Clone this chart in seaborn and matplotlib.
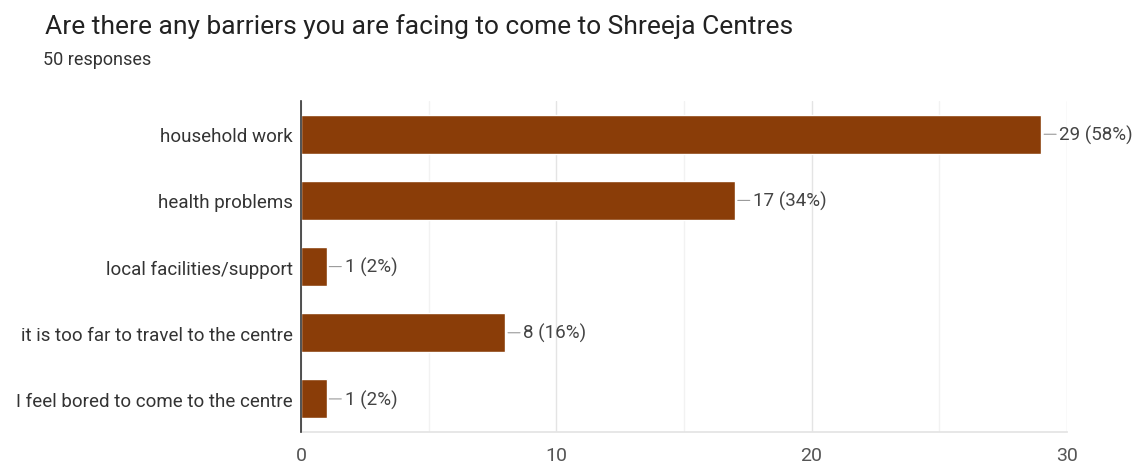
import matplotlib
matplotlib.use("Agg")
import matplotlib.pyplot as plt
import seaborn as sns
import pandas as pd

categories = [
    "household work",
    "health problems",
    "local facilities/support",
    "it is too far to travel to the centre",
    "I feel bored to come to the centre",
]
counts = [29, 17, 1, 8, 1]
total_responses = 50
x_ticks = [0, 10, 20, 30]

title = "Are there any barriers you are facing to come to Shreeja Centres"
subtitle = f"{total_responses} responses"

df = pd.DataFrame({"category": categories, "count": counts})

sns.set_theme(style="white")
plt.rcParams["font.family"] = ["Roboto", "DejaVu Sans"]

fig = plt.figure(figsize=(11.38, 4.64), dpi=100)
ax = fig.add_axes([0.2645, 0.0668, 0.673, 0.713])

bar_color = "#8a3d08"
sns.barplot(data=df, x="count", y="category", order=categories,
            color=bar_color, saturation=1, width=0.59, ax=ax, zorder=3)

ax.set_xlim(0, 30)
ax.set_xticks(x_ticks)
ax.set_xticks([5, 15, 25], minor=True)
ax.set_xlabel("")
ax.set_ylabel("")
ax.grid(axis="x", which="major", color="#e4e4e4", linewidth=1, zorder=0)
ax.grid(axis="x", which="minor", color="#f2f2f2", linewidth=1, zorder=0)
ax.tick_params(axis="x", which="both", length=0, pad=10, labelsize=14, labelcolor="#555555")
ax.tick_params(axis="y", length=0, pad=6, labelsize=13.5, labelcolor="#333333")

for side in ("top", "right"):
    ax.spines[side].set_visible(False)
ax.spines["left"].set_color("#333333")
ax.spines["left"].set_linewidth(1.2)
ax.spines["left"].set_zorder(4)
ax.spines["bottom"].set_color("#e4e4e4")

# value labels with short leader lines
for i, c in enumerate(counts):
    pct = round(100 * c / total_responses)
    ax.annotate(f"{c} ({pct}%)", xy=(c, i), xytext=(13, 0),
                textcoords="offset points", va="center", ha="left",
                fontsize=13.5, color="#444444",
                arrowprops=dict(arrowstyle="-", color="#999999", lw=0.8,
                                shrinkA=0, shrinkB=2))

fig.text(0.0395, 0.942, title, fontsize=19, color="#222222", va="center")
fig.text(0.0378, 0.871, subtitle, fontsize=13, color="#333333", va="center")

fig.savefig("out.png", dpi=100, facecolor="white")
